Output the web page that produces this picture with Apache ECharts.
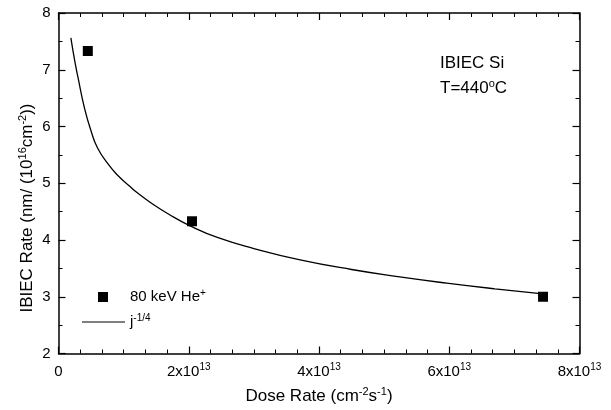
<!DOCTYPE html>
<html>
<head>
<meta charset="utf-8">
<script src="https://cdn.jsdelivr.net/npm/echarts@6/dist/echarts.min.js"></script>
<style>
  html, body { margin: 0; padding: 0; background: #fff; }
  #chart { width: 611px; height: 410px; }
</style>
</head>
<body>
<div id="chart"></div>
<script>
// measured points, dose rate in cm^-2 s^-1
var doseRate = [0.45e13, 2.05e13, 7.44e13]
var ibiecRate = [7.33, 4.33, 3.0]

// j^-1/4 fit
var fitDose = [0.19e13, 0.25e13, 0.30e13, 0.40e13, 0.50e13, 0.60e13, 0.76e13, 0.90e13, 1.09e13, 1.20e13, 1.40e13, 1.70e13, 2.02e13, 2.45e13, 3.00e13, 3.71e13, 4.50e13, 5.24e13, 5.96e13, 6.70e13, 7.44e13]
var fitRate = [7.56, 7.15, 6.86, 6.32, 5.92, 5.62, 5.34, 5.15, 4.95, 4.84, 4.67, 4.45, 4.25, 4.04, 3.85, 3.65, 3.48, 3.35, 3.24, 3.14, 3.05]

var xTicks = [0, 2e13, 4e13, 6e13, 8e13]
var yTicks = [2, 3, 4, 5, 6, 7, 8]

var font = 'Liberation Sans, Arial, sans-serif'

var rich = {
  b: { fontSize: 15, lineHeight: 18, fontFamily: font, color: '#000' },
  s: { fontSize: 10, lineHeight: 10, fontFamily: font, color: '#000', verticalAlign: 'top' },
  p: { width: 17 }
}
var richBig = {
  b: { fontSize: 17, lineHeight: 20, fontFamily: font, color: '#000' },
  s: { fontSize: 11, lineHeight: 11, fontFamily: font, color: '#000', verticalAlign: 'top' }
}

var chart = echarts.init(document.getElementById('chart'))

function makeAxis(kind, pos, showLabel) {
  var ticks = kind === 'x' ? xTicks : yTicks
  var ax = {
    type: 'value',
    position: pos,
    min: ticks[0],
    max: ticks[ticks.length - 1],
    interval: ticks[1] - ticks[0],
    axisLine: { show: true, onZero: false, lineStyle: { color: '#000', width: 1.5 } },
    axisTick: { show: true, inside: true, length: 7, lineStyle: { color: '#000', width: 1.2 } },
    minorTick: { show: true, splitNumber: kind === 'x' ? 6 : 2, length: 4, lineStyle: { color: '#000', width: 1 } },
    splitLine: { show: false },
    axisLabel: { show: false }
  }
  if (showLabel) {
    if (kind === 'x') {
      ax.axisLabel = {
        margin: 9,
        formatter: function (v) {
          return v === 0 ? '{b|0}' : '{b|' + (v / 1e13) + 'x10}{s|13}'
        },
        rich: rich
      }
      ax.name = '{b|Dose Rate (cm}{s|-2}{b|s}{s|-1}{b|)}'
      ax.nameLocation = 'middle'
      ax.nameGap = 33
      ax.nameTextStyle = { rich: richBig }
    } else {
      ax.axisLabel = { margin: 8, fontSize: 15, fontFamily: font, color: '#000' }
    }
  }
  return ax
}

chart.setOption({
  animation: false,
  grid: { left: 58.5, right: 31.5, top: 13, bottom: 53 },
  xAxis: [makeAxis('x', 'bottom', true), makeAxis('x', 'top', false)],
  yAxis: [makeAxis('y', 'left', true), makeAxis('y', 'right', false)],
  legend: [{
    data: ['80 keV He+'],
    left: 98,
    top: 288,
    padding: 0,
    itemWidth: 10,
    itemHeight: 10,
    formatter: function () { return '{p|}{b|80 keV He}{s|+}' },
    textStyle: { rich: rich }
  }, {
    data: [{ name: 'j-1/4', icon: 'rect' }],
    left: 82,
    top: 313,
    padding: 0,
    itemWidth: 43,
    itemHeight: 1,
    formatter: function () { return '{b|j}{s|-1/4}' },
    textStyle: { rich: rich }
  }],
  graphic: [{
    type: 'text',
    x: 27,
    y: 208,
    rotation: Math.PI / 2,
    style: {
      text: '{b|IBIEC Rate (nm/ (10}{s|16}{b|cm}{s|-2}{b|))}',
      rich: richBig,
      align: 'center',
      verticalAlign: 'middle'
    }
  }, {
    type: 'text',
    left: 440,
    top: 55,
    style: { text: '{b|IBIEC Si}', rich: richBig }
  }, {
    type: 'text',
    left: 440,
    top: 78,
    style: { text: '{b|T=440}{s|o}{b|C}', rich: richBig }
  }],
  series: [{
    name: '80 keV He+',
    type: 'scatter',
    symbol: 'rect',
    symbolSize: 10,
    itemStyle: { color: '#000', opacity: 1 },
    data: doseRate.map(function (x, i) { return [x, ibiecRate[i]] })
  }, {
    name: 'j-1/4',
    type: 'line',
    smooth: true,
    symbol: 'none',
    lineStyle: { color: '#000', width: 1.3 },
    itemStyle: { color: '#000' },
    data: fitDose.map(function (x, i) { return [x, fitRate[i]] })
  }]
})
</script>
</body>
</html>
